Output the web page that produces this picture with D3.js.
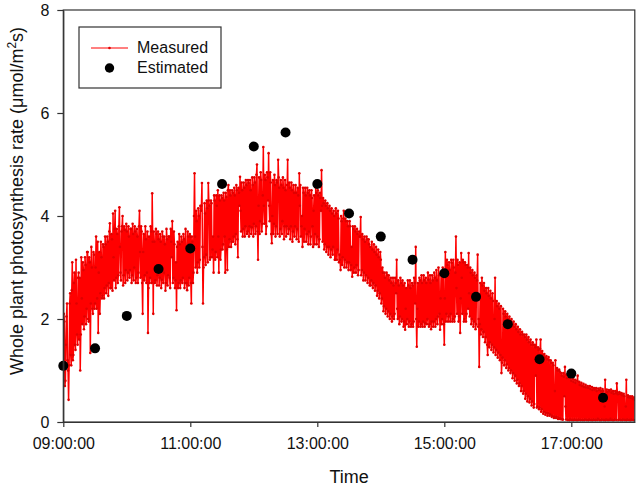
<!DOCTYPE html>
<html><head><meta charset="utf-8">
<script src="https://cdn.jsdelivr.net/npm/d3@7"></script>
<style>
body{margin:0;background:#fff;}
text{font-family:"Liberation Sans",Arial,sans-serif;}
</style></head>
<body><svg id="chart" width="639" height="489"></svg>
<script>
// ---- data ----
const measuredStart = "09:00:00";
// readings on each whole minute (09:00:00, 09:01:00, ...)
const measuredValues = [
1.0,1.95,0.8,2.05,1.2,0.43,2.3,1.3,2.56,1.2,
2.7,1.5,3.15,1.7,2.8,1.6,1.0,3.2,1.9,2.95,
2.05,3.05,2.2,3.3,1.95,3.1,2.3,3.0,2.1,3.25,
2.3,3.6,2.4,1.73,3.3,2.5,3.2,2.45,3.4,2.6,
3.45,2.65,3.5,2.7,3.86,2.6,3.55,4.05,2.75,4.1,
2.8,3.65,2.85,4.17,2.9,3.7,4.0,2.85,3.73,2.95,
3.7,2.9,3.6,2.95,3.75,2.85,3.65,3.0,3.7,2.8,
3.6,2.9,4.1,2.8,3.7,2.1,3.65,2.85,3.55,2.9,
1.73,3.6,2.8,3.7,4.44,2.1,3.5,2.75,3.65,2.85,
3.55,2.8,3.5,2.76,3.6,2.9,3.45,2.7,3.55,2.85,
3.6,2.6,3.5,3.9,2.8,3.45,2.75,2.17,3.5,2.7,
3.45,2.75,3.5,2.8,3.55,2.7,3.4,2.56,3.6,2.8,
3.6,2.3,3.5,2.9,4.83,3.0,3.9,3.1,4.0,3.15,
4.1,4.64,2.3,3.2,4.05,3.25,4.15,4.64,4.2,3.2,
4.25,3.35,2.9,4.3,3.3,4.2,4.5,2.9,4.3,3.35,
4.35,3.45,4.3,2.9,4.37,2.95,4.6,3.55,4.4,3.5,
4.45,3.6,4.4,3.65,4.5,3.2,4.45,4.76,3.7,4.5,
3.75,4.55,3.8,4.6,3.7,4.64,3.8,4.5,3.78,4.6,
3.85,4.65,3.8,5.0,3.15,4.75,3.9,4.7,3.85,5.34,
3.85,4.7,3.8,4.75,5.22,3.9,4.65,3.47,4.7,3.85,
4.6,3.8,4.65,5.09,4.55,3.75,4.6,3.9,4.55,3.8,
4.5,3.8,5.09,3.75,4.55,3.8,4.5,3.7,4.45,3.8,
4.45,3.75,4.4,4.83,4.6,3.8,3.4,4.45,3.75,4.4,
3.65,4.45,3.7,4.4,3.6,4.35,3.4,4.4,3.65,4.45,
3.6,4.4,3.55,4.35,4.89,3.5,4.25,3.45,4.2,3.4,
4.15,3.4,4.1,3.35,4.05,3.4,4.0,3.15,4.05,3.35,
3.95,3.25,2.95,3.9,3.2,4.1,3.15,3.9,3.1,3.8,
3.1,3.8,3.05,2.82,3.75,3.0,3.7,3.05,3.65,2.95,
3.6,3.98,2.95,3.55,2.9,3.5,2.85,3.55,2.8,3.45,
3.4,2.75,3.35,2.7,3.3,2.65,3.25,2.55,3.2,2.5,
3.15,2.4,2.9,2.25,2.8,2.2,2.85,2.15,2.75,2.1,
2.7,2.05,2.65,2.1,2.7,3.15,2.0,2.65,2.05,2.7,
2.0,2.65,1.95,1.79,2.6,2.0,2.65,1.95,2.6,1.9,
2.65,1.95,2.7,3.4,1.46,2.7,1.95,2.75,1.9,2.7,
1.95,2.75,1.92,2.7,2.0,2.76,1.9,2.7,1.95,2.75,
1.95,2.8,2.0,2.75,2.05,2.85,1.79,2.9,2.0,2.85,
1.5,3.3,2.1,3.05,2.05,2.95,2.1,3.09,2.0,3.0,
2.05,3.6,2.1,3.05,2.05,1.73,3.28,2.1,3.1,2.0,
3.05,2.1,3.0,3.28,2.05,2.9,2.0,2.85,1.95,2.8,
1.9,2.75,1.85,1.07,2.7,1.8,2.65,1.75,2.55,1.65,
2.5,1.3,2.45,1.55,2.4,1.5,2.35,1.45,2.8,1.4,
2.25,1.35,2.2,1.3,0.95,1.25,2.1,1.2,2.05,1.12,
2.0,1.05,1.95,1.0,1.9,0.95,1.85,0.9,1.8,0.82,
1.75,0.75,1.7,0.7,1.7,0.6,1.65,0.55,1.6,0.5,
1.55,0.45,1.5,0.4,1.5,0.35,1.45,1.6,0.3,1.4,
0.28,1.6,0.25,1.3,0.2,1.25,0.18,1.22,0.17,1.2,
0.15,1.15,0.12,1.1,0.1,1.2,0.1,1.0,0.08,0.98,
0.06,0.9,0.05,0.88,1.07,0.05,0.85,0.04,0.85,0.05,
0.8,0.04,0.78,0.05,0.76,0.04,0.9,0.05,0.72,0.04,
0.7,0.04,0.68,0.05,0.67,0.04,0.66,0.05,0.64,0.04,
0.62,0.05,0.63,0.04,0.6,0.06,0.62,0.04,0.6,0.05,
0.6,0.04,0.82,0.05,0.58,0.04,0.6,0.06,0.57,0.04,
0.55,0.05,0.56,0.75,0.54,0.05,0.55,0.04,0.52,0.05,
0.5,0.04,0.82,0.05,0.48,0.04,0.47,0.05,0.45,0.04,
0.43
];
// readings at half past each minute (09:00:30, 09:01:30, ...)
const measuredHalfValues = [
2.1,0.7,1.5,2.3,1.0,1.1,2.5,1.1,3.1,1.3,
2.9,1.4,2.3,1.5,2.9,2.8,1.7,2.4,3.1,1.8,
3.2,1.9,3.3,2.0,3.2,1.34,3.4,2.2,3.3,2.2,
3.0,2.2,3.5,2.9,2.1,3.5,2.4,3.45,2.4,3.6,
2.5,3.6,2.45,3.7,2.6,3.65,2.55,3.2,3.75,2.6,
3.75,2.7,3.8,3.4,2.75,3.8,2.65,3.8,2.7,3.85,
2.75,3.8,2.8,3.75,2.7,3.85,2.75,3.8,2.7,3.75,
2.7,3.8,3.3,3.8,2.7,3.3,2.75,3.8,2.7,3.7,
2.6,2.7,3.8,2.7,3.5,3.7,2.7,3.75,2.65,3.7,
2.65,3.65,2.6,3.7,2.7,3.6,2.55,3.75,2.65,3.6,
2.8,3.75,3.2,2.7,3.7,2.6,3.1,3.4,2.6,3.65,
2.6,3.6,2.7,3.65,2.6,3.75,2.7,3.7,2.65,3.65,
2.7,3.6,2.7,4.0,3.6,4.1,2.9,4.15,3.0,4.2,
4.2,3.4,3.0,4.25,3.05,4.3,3.1,4.3,3.15,4.3,
3.2,3.6,4.4,3.15,4.4,3.2,3.6,4.4,3.15,4.4,
3.35,4.45,3.6,4.45,3.35,4.5,3.4,4.5,3.4,4.5,
3.5,4.55,3.45,4.6,3.55,4.55,4.2,4.1,4.65,3.6,
4.65,3.6,4.7,3.65,4.7,3.6,4.7,3.65,4.75,3.6,
4.75,3.65,4.8,3.7,4.2,3.65,4.85,3.7,4.4,4.2,
4.8,3.65,4.85,4.3,4.2,4.85,3.65,4.0,3.65,4.8,
3.6,4.7,3.65,4.75,3.6,4.7,3.65,4.75,3.55,4.7,
3.6,4.6,3.65,4.65,3.55,4.65,3.5,4.6,3.6,4.6,
3.55,4.55,3.5,4.2,3.6,4.0,4.55,3.5,4.55,3.5,
4.55,3.45,4.5,3.45,4.5,3.8,4.1,3.45,4.55,3.45,
4.5,3.4,4.45,4.1,4.2,4.35,3.35,4.3,3.3,4.25,
3.25,4.2,3.2,4.15,3.25,4.1,3.15,4.15,3.15,4.1,
3.1,3.15,4.0,3.05,3.95,3.0,3.95,3.0,3.9,2.95,
3.9,2.95,3.4,3.8,2.9,3.8,2.9,3.75,2.85,3.7,
3.6,2.85,3.65,2.75,3.6,2.75,3.6,2.7,3.55,2.65,
2.65,3.5,2.6,3.45,2.55,3.4,2.45,3.35,2.4,3.3,
2.3,3.0,2.15,2.9,2.1,2.9,2.05,2.85,2.0,2.8,
1.95,2.8,2.0,2.8,2.5,2.2,2.75,1.9,2.8,1.95,
2.75,1.85,2.7,2.2,1.9,2.75,1.85,2.75,1.85,2.7,
1.85,2.8,2.3,2.0,2.2,1.85,2.8,1.85,2.85,1.85,
2.85,1.85,2.8,1.9,2.9,1.85,2.85,1.8,2.85,1.85,
2.9,1.85,2.95,1.9,3.0,2.1,2.4,1.9,3.0,1.9,
2.4,1.95,3.15,1.95,3.1,1.95,3.15,1.95,3.15,1.95,
2.9,2.6,3.15,1.95,3.1,2.4,2.8,3.15,1.95,3.1,
1.95,3.05,2.2,2.5,3.0,1.9,2.95,1.85,2.9,1.8,
2.85,3.25,2.0,1.9,1.7,2.8,1.65,2.7,1.55,2.6,
1.5,2.6,1.45,2.55,1.4,2.5,1.35,2.0,1.3,2.35,
1.25,2.3,1.2,2.25,1.15,2.2,1.1,2.15,1.05,2.1,
1.0,2.05,0.95,2.0,0.85,1.95,0.8,1.9,0.75,1.85,
0.7,1.8,0.6,1.75,0.55,1.7,0.45,1.7,0.4,1.65,
0.38,1.6,0.32,1.55,0.28,1.5,0.9,0.28,1.45,0.25,
1.42,0.2,1.38,0.16,1.32,0.14,1.28,0.12,1.26,0.12,
1.2,0.1,1.15,0.08,0.6,0.08,1.05,0.06,1.02,0.06,
0.95,0.05,0.95,0.5,0.3,0.92,0.04,0.9,0.04,0.88,
0.04,0.84,0.04,0.82,0.04,0.8,0.04,0.78,0.04,0.76,
0.04,0.74,0.04,0.72,0.04,0.7,0.04,0.7,0.04,0.68,
0.04,0.66,0.04,0.66,0.04,0.65,0.04,0.66,0.04,0.64,
0.04,0.3,0.04,0.63,0.04,0.62,0.04,0.63,0.04,0.6,
0.04,0.6,0.04,0.58,0.04,0.58,0.04,0.56,0.04,0.55,
0.04,0.3,0.04,0.52,0.04,0.5,0.04,0.5,0.04,0.48
];
const estimatedTimes = ["09:00:00","09:30:00","10:00:00","10:30:00","11:00:00","11:30:00","12:00:00","12:30:00","13:00:00",
  "13:30:00","14:00:00","14:30:00","15:00:00","15:30:00","16:00:00","16:30:00","17:00:00","17:30:00"];
const estimatedValues = [1.09,1.43,2.06,2.97,3.37,4.62,5.35,5.62,4.62,4.05,3.6,3.15,2.89,2.43,1.9,1.22,0.94,0.47];
const xTickLabels = ["09:00:00","11:00:00","13:00:00","15:00:00","17:00:00"];
const yTicks = [0,2,4,6,8];
const legendLabels = ["Measured","Estimated"];

// ---- chart ----
const parse = d3.timeParse("%H:%M:%S");
const fmt = d3.timeFormat("%H:%M:%S");
const t0 = parse(measuredStart);
const measured = [];
measuredValues.forEach((v,i)=>{
  measured.push({t:d3.timeMinute.offset(t0,i), v});
  if (i < measuredHalfValues.length)
    measured.push({t:d3.timeSecond.offset(t0,i*60+30), v:measuredHalfValues[i]});
});
const estimated = estimatedTimes.map((s,i)=>({t:parse(s), v:estimatedValues[i]}));

const svg = d3.select("#chart");
const L=63.3, R=634.8, T=10, B=422;
const x = d3.scaleTime().domain([parse("09:00:00"), parse("18:00:00")]).range([L,R]);
const y = d3.scaleLinear().domain([0,8]).range([B,T]);
const axisColor = "#333";

svg.append("defs").append("clipPath").attr("id","clip")
  .append("rect").attr("x",L).attr("y",T).attr("width",R-L).attr("height",B-T);

const plot = svg.append("g").attr("clip-path","url(#clip)");
plot.append("path").datum(measured)
  .attr("fill","none").attr("stroke","#ff0000").attr("stroke-width",1.5)
  .attr("d", d3.line().x(d=>x(d.t)).y(d=>y(d.v)));
plot.append("g").selectAll("circle").data(measured).join("circle")
  .attr("cx",d=>x(d.t)).attr("cy",d=>y(d.v)).attr("r",1.3).attr("fill","#e00000");

svg.append("g").selectAll("circle").data(estimated).join("circle")
  .attr("cx",d=>x(d.t)).attr("cy",d=>y(d.v)).attr("r",5).attr("fill","#000");

// frame
svg.append("rect").attr("x",L).attr("y",T).attr("width",R-L).attr("height",B-T)
  .attr("fill","none").attr("stroke",axisColor).attr("stroke-width",1.2);

// x axis
const xMajor = xTickLabels.map(parse);
const xMinor = d3.timeMinute.every(30).range(parse("09:00:00"), parse("18:00:01"));
const xAxis = svg.append("g").attr("transform",`translate(0,${B})`);
xAxis.call(d3.axisBottom(x).tickValues(xMinor).tickSize(5).tickSizeOuter(0).tickFormat(""));
xAxis.call(d3.axisBottom(x).tickValues(xMajor).tickSize(5).tickSizeOuter(0).tickPadding(11).tickFormat(fmt));
xAxis.selectAll("path.domain").attr("stroke",axisColor).attr("stroke-width",1.2);
xAxis.selectAll("line").attr("stroke",axisColor).attr("stroke-width",1.2);
xAxis.selectAll("text").attr("font-size",16).attr("fill","#111").attr("font-family","Liberation Sans, Arial, sans-serif");

const yAxis = svg.append("g").attr("transform",`translate(${L},0)`)
  .call(d3.axisLeft(y).tickValues(yTicks).tickSize(6).tickSizeOuter(0).tickPadding(8));
yAxis.selectAll("path.domain").attr("stroke",axisColor).attr("stroke-width",1.2);
yAxis.selectAll("line").attr("stroke",axisColor).attr("stroke-width",1.2);
yAxis.selectAll("text").attr("font-size",16).attr("fill","#111").attr("font-family","Liberation Sans, Arial, sans-serif");

// titles
svg.append("text").attr("x",(L+R)/2).attr("y",483).attr("text-anchor","middle")
  .attr("font-size",18).attr("fill","#111").text("Time");
const yt = svg.append("text").attr("transform","translate(23,201) rotate(-90)")
  .attr("text-anchor","middle").attr("font-size",18).attr("fill","#111");
yt.append("tspan").text("Whole plant photosynthesis rate (μmol/m");
yt.append("tspan").attr("font-size",12).attr("dy",-7).text("2");
yt.append("tspan").attr("dy",7).text("s)");

// legend
const lg = svg.append("g");
lg.append("rect").attr("x",79).attr("y",27).attr("width",142).attr("height",61)
  .attr("fill","#fff").attr("stroke",axisColor).attr("stroke-width",1.2);
lg.append("line").attr("x1",91).attr("x2",128).attr("y1",48).attr("y2",48)
  .attr("stroke","#ff0000").attr("stroke-width",1);
lg.append("circle").attr("cx",109.5).attr("cy",48).attr("r",1.3).attr("fill","#e00000");
lg.append("circle").attr("cx",109.5).attr("cy",68).attr("r",4.7).attr("fill","#000");
lg.selectAll("text.lab").data(legendLabels).join("text").attr("class","lab")
  .attr("x",137).attr("y",(d,i)=>53+i*20).attr("font-size",16).attr("fill","#111").text(d=>d);
</script></body></html>
